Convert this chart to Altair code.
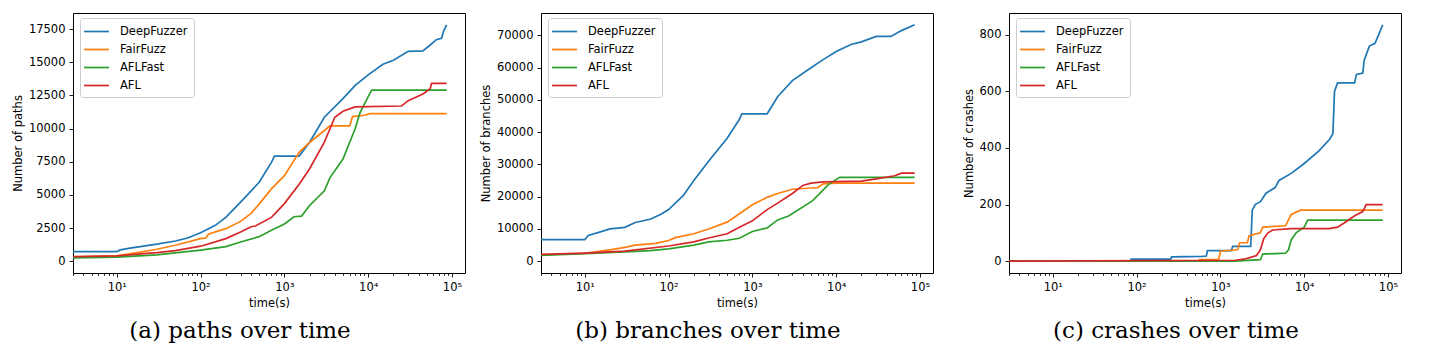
import altair as alt
import pandas as pd

SERIES = ["DeepFuzzer", "FairFuzz", "AFLFast", "AFL"]
COLORS = ["#1f77b4", "#ff7f0e", "#2ca02c", "#d62728"]

# ---- (a) paths over time ----
PATHS_DEEP_T = [3, 10, 11, 15, 20, 30, 50, 70, 100, 150, 200, 300, 500, 700, 760, 1500, 2000, 3000, 5000, 7000, 10000, 15000, 20000, 30000, 45000, 55000, 65000, 75000, 80000, 86400]
PATHS_DEEP_V = [720, 720, 850, 1000, 1120, 1280, 1520, 1750, 2150, 2700, 3300, 4450, 5950, 7450, 7920, 7920, 8970, 10850, 12250, 13250, 14050, 14850, 15150, 15820, 15850, 16300, 16700, 16800, 17400, 17820]
PATHS_FAIR_T = [3, 10, 20, 30, 50, 100, 115, 125, 200, 300, 400, 500, 700, 1000, 1500, 2000, 3000, 3500, 6000, 6500, 9000, 10500, 86400]
PATHS_FAIR_V = [300, 400, 700, 900, 1200, 1700, 1750, 2050, 2450, 3000, 3600, 4300, 5450, 6450, 8200, 8950, 9850, 10200, 10200, 10900, 11000, 11120, 11130]
PATHS_FAST_T = [3, 10, 30, 100, 200, 300, 500, 700, 1000, 1300, 1600, 2000, 3000, 3500, 5000, 7000, 8000, 10000, 11000, 86400]
PATHS_FAST_V = [250, 300, 480, 830, 1100, 1450, 1850, 2330, 2800, 3350, 3400, 4200, 5300, 6300, 7700, 10000, 11200, 12400, 12900, 12900]
PATHS_AFL_T = [3, 10, 30, 50, 100, 200, 300, 400, 450, 700, 1000, 1500, 2000, 3000, 4000, 5000, 7000, 25000, 30000, 45000, 55000, 57000, 86400]
PATHS_AFL_V = [350, 400, 650, 800, 1130, 1700, 2200, 2600, 2650, 3300, 4340, 5800, 6970, 8970, 10850, 11300, 11630, 11700, 12100, 12600, 13000, 13400, 13400]

# ---- (b) branches over time ----
BR_DEEP_T = [3, 10, 11, 15, 20, 30, 40, 60, 80, 100, 150, 200, 300, 500, 700, 750, 1500, 2000, 3000, 5000, 7000, 10000, 15000, 20000, 30000, 45000, 60000, 86400]
BR_DEEP_V = [6700, 6700, 8000, 9000, 10000, 10500, 12000, 13000, 14500, 16000, 20400, 25000, 31000, 38100, 44000, 45700, 45700, 51000, 56000, 60000, 62500, 65000, 67200, 68000, 69700, 69700, 71500, 73300]
BR_FAIR_T = [3, 10, 20, 30, 40, 70, 100, 120, 200, 300, 500, 700, 1000, 1500, 2000, 3000, 5000, 6000, 7000, 10000, 86400]
BR_FAIR_V = [2000, 2400, 3500, 4300, 5000, 5500, 6400, 7300, 8500, 10000, 12100, 14700, 17500, 19800, 21000, 22300, 22700, 22800, 24000, 24200, 24200]
BR_FAST_T = [3, 10, 30, 60, 100, 200, 300, 500, 700, 1000, 1500, 2000, 2700, 5200, 8200, 11000, 86400]
BR_FAST_V = [1800, 2300, 2900, 3300, 3800, 5000, 6000, 6500, 7100, 9200, 10300, 12800, 14000, 18700, 23900, 26000, 26000]
BR_AFL_T = [3, 10, 30, 100, 200, 300, 500, 700, 1000, 1500, 2000, 3000, 4000, 5000, 7000, 20000, 30000, 50000, 60000, 86400]
BR_AFL_V = [2100, 2500, 3100, 4700, 6000, 7200, 8500, 10500, 12500, 16000, 18000, 21000, 23500, 24200, 24600, 24800, 25500, 26500, 27300, 27300]

# ---- (c) crashes over time ----
CR_DEEP_T = [3, 85, 86, 255, 262, 600, 680, 700, 1000, 1350, 1400, 2300, 2400, 2600, 3000, 3500, 4500, 5000, 7000, 10000, 15000, 20000, 22000, 23000, 25000, 40000, 42000, 50000, 52000, 60000, 70000, 80000, 86400]
CR_DEEP_V = [0, 0, 7, 7, 15, 17, 18, 37, 37, 37, 52, 52, 180, 200, 210, 240, 260, 285, 310, 345, 390, 430, 450, 600, 630, 630, 660, 665, 710, 760, 770, 810, 835]
CR_FAIR_T = [3, 550, 560, 950, 1000, 1600, 1700, 2100, 2200, 3000, 3200, 6000, 7000, 9000, 86400]
CR_FAIR_V = [0, 0, 5, 5, 35, 40, 65, 65, 90, 100, 120, 125, 165, 180, 180]
CR_FAST_T = [3, 1500, 3000, 3200, 6000, 6500, 7000, 8000, 10000, 11000, 86400]
CR_FAST_V = [0, 0, 5, 25, 28, 40, 75, 100, 120, 145, 145]
CR_AFL_T = [3, 1500, 2000, 2700, 3000, 3300, 3700, 4200, 7000, 20000, 25000, 30000, 40000, 50000, 55000, 86400]
CR_AFL_V = [0, 3, 8, 20, 40, 80, 100, 110, 115, 115, 120, 135, 160, 175, 200, 200]

X_MAJOR = [10, 100, 1000, 10000, 100000]
X_TICKS = [k * 10 ** e for e in range(0, 6) for k in range(1, 10) if 3 <= k * 10 ** e <= 143000]

PATHS_YTICKS = [0, 2500, 5000, 7500, 10000, 12500, 15000, 17500]
BR_YTICKS = [0, 10000, 20000, 30000, 40000, 50000, 60000, 70000]
CR_YTICKS = [0, 200, 400, 600, 800]

SANS = "DejaVu Sans"
FS = 11.5


def build_df(pairs):
    rows = []
    for name, (ts, vs) in zip(SERIES, pairs):
        for t, v in zip(ts, vs):
            rows.append({"series": name, "t": t, "v": v})
    return pd.DataFrame(rows)


major_test = " || ".join(f"datum.value == {m}" for m in X_MAJOR)
label_expr = ("datum.value == 10 ? '10¹' : datum.value == 100 ? '10²' : datum.value == 1000 ? '10³' : "
              "datum.value == 10000 ? '10⁴' : datum.value == 100000 ? '10⁵' : ''")


def panel(df, ytitle, ydomain, yticks, caption):
    return alt.Chart(
        df,
        title=alt.Title(caption, orient="bottom", anchor="middle", font="DejaVu Serif",
                        fontSize=23, fontWeight="normal", color="black", dx=-29, offset=11),
    ).mark_line(strokeWidth=1.7, clip=True).encode(
        x=alt.X("t:Q",
                scale=alt.Scale(type="log", domain=[3, 143000], nice=False),
                axis=alt.Axis(values=X_TICKS, labelExpr=label_expr, title="time(s)",
                              grid=False, domain=False, labelFlush=False, labelOverlap=False,
                              tickSize={"condition": {"test": major_test, "value": 4}, "value": 2.3},
                              labelPadding=4, titlePadding=5)),
        y=alt.Y("v:Q",
                scale=alt.Scale(domain=ydomain, nice=False, zero=False),
                axis=alt.Axis(values=yticks, format="d", title=ytitle, grid=False, domain=False,
                              tickSize=4, labelPadding=4, titlePadding=5)),
        color=alt.Color("series:N", sort=SERIES,
                        scale=alt.Scale(domain=SERIES, range=COLORS),
                        legend=alt.Legend(title=None, orient="none", legendX=7, legendY=5,
                                          symbolType="M-2,0H2", symbolSize=156.25,
                                          symbolStrokeWidth=1.7, labelFont=SANS, labelFontSize=FS,
                                          labelColor="black", labelOffset=16, padding=6,
                                          rowPadding=5, strokeColor="#cccccc",
                                          fillColor="rgba(255,255,255,0.8)", cornerRadius=3,
                                          symbolOffset=3)),
    ).properties(width=392, height=260)


a = panel(build_df([(PATHS_DEEP_T, PATHS_DEEP_V), (PATHS_FAIR_T, PATHS_FAIR_V),
                    (PATHS_FAST_T, PATHS_FAST_V), (PATHS_AFL_T, PATHS_AFL_V)]),
          "Number of paths", [-891, 18711], PATHS_YTICKS, "(a) paths over time")
b = panel(build_df([(BR_DEEP_T, BR_DEEP_V), (BR_FAIR_T, BR_FAIR_V),
                    (BR_FAST_T, BR_FAST_V), (BR_AFL_T, BR_AFL_V)]),
          "Number of branches", [-3665, 76965], BR_YTICKS, "(b) branches over time")
c = panel(build_df([(CR_DEEP_T, CR_DEEP_V), (CR_FAIR_T, CR_FAIR_V),
                    (CR_FAST_T, CR_FAST_V), (CR_AFL_T, CR_AFL_V)]),
          "Number of crashes", [-42, 877], CR_YTICKS, "(c) crashes over time")

chart = alt.hconcat(a, b, c, spacing=76, bounds="flush").resolve_legend(color="independent").properties(
    padding={"left": 11, "top": 12, "right": 5, "bottom": 5}
).configure(background="white").configure_view(stroke="black", strokeWidth=1).configure_axis(
    labelFont=SANS, labelFontSize=FS, labelColor="black", titleFont=SANS, titleFontSize=FS,
    titleFontWeight="normal", titleColor="black", tickColor="black", tickWidth=0.9
)

chart.save("out.html", embed_options={"renderer": "svg", "actions": False})
